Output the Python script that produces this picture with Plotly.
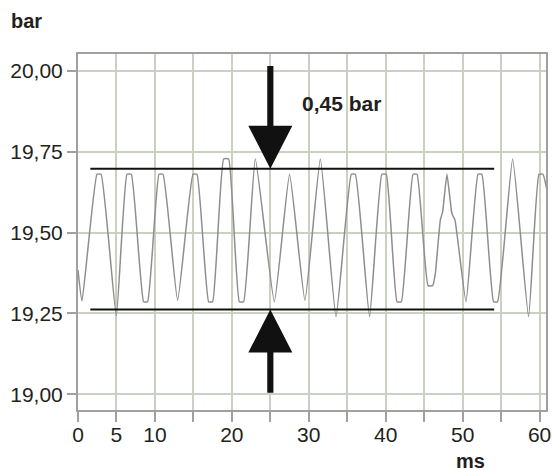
import plotly.graph_objects as go

# ---- data ----
time_ms = [0, 0.52, 2.47, 3.0, 4.98, 6.37, 6.93, 8.53, 9.05, 10.53, 11.05, 12.95,
           14.95, 15.47, 16.98, 17.5, 18.93, 19.58, 20.97, 21.53, 23.05, 25.52,
           27.5, 29.5, 31.5, 33.54, 35.53, 36.05, 37.9, 39.5, 40.07, 41.47, 42.03,
           43.55, 44.07, 45.5, 46.1, 46.45, 47.1, 47.4, 47.96, 48.6, 49.0, 50.44,
           52.0, 52.5, 54.02, 54.54, 56.5, 58.57, 59.92, 60.44, 60.96]
pressure_bar = [19.384, 19.288, 19.68, 19.68, 19.243, 19.68, 19.68, 19.286, 19.286,
                19.68, 19.68, 19.29, 19.68, 19.68, 19.286, 19.286, 19.727, 19.727,
                19.286, 19.286, 19.727, 19.286, 19.68, 19.29, 19.727, 19.24, 19.68,
                19.68, 19.24, 19.68, 19.68, 19.286, 19.286, 19.68, 19.68, 19.336,
                19.336, 19.374, 19.539, 19.564, 19.68, 19.559, 19.539, 19.286, 19.68,
                19.68, 19.286, 19.286, 19.727, 19.24, 19.68, 19.68, 19.631]

x_tickvals = [0, 5, 10, 15, 20, 25, 30, 35, 40, 45, 50, 55, 60]
x_ticktext = ["0", "5", "10", "", "20", "", "30", "", "40", "", "50", "", "60"]
y_tickvals = [19.0, 19.25, 19.5, 19.75, 20.0]
y_ticktext = ["19,00", "19,25", "19,50", "19,75", "20,00"]

band_top = 19.697
band_bottom = 19.262
band_start, band_end = 1.6, 54.1
arrow_x = 25.0
amplitude_label = "0,45 bar"

# ---- style / geometry ----
FONT = "Liberation Sans, Arial, Helvetica, sans-serif"
TXT = "#231f20"
GRID = "#c9d2c2"
FRAME = "#a0a0a0"
W, H = 552, 472
ML, MR, MT, MB = 78, 6, 54, 62
X_RANGE = [0, 60.835]
Y_RANGE = [18.9515, 20.0516]

fig = go.Figure()
fig.add_trace(go.Scatter(x=time_ms, y=pressure_bar, mode="lines",
                         line=dict(color="#8e8e8e", width=1.5, shape="spline", smoothing=0.4),
                         hoverinfo="skip", showlegend=False))

# band lines
for yv in (band_top, band_bottom):
    fig.add_shape(type="line", xref="x", yref="y", x0=band_start, x1=band_end,
                  y0=yv, y1=yv, line=dict(color="#111111", width=2))

# arrows (filled paths) relative to band lines
head_hw = 2.86      # ms
shaft_hw = 0.40     # ms
head_len = 0.133    # bar
down_top = 20.0145
up_bottom = 19.005

def arrow_path(tip, base, end):
    return (f"M {arrow_x},{tip} L {arrow_x-head_hw},{base} L {arrow_x-shaft_hw},{base} "
            f"L {arrow_x-shaft_hw},{end} L {arrow_x+shaft_hw},{end} L {arrow_x+shaft_hw},{base} "
            f"L {arrow_x+head_hw},{base} Z")

fig.add_shape(type="path", xref="x", yref="y",
              path=arrow_path(band_top, band_top + head_len, down_top),
              fillcolor="#111111", line=dict(width=0))
fig.add_shape(type="path", xref="x", yref="y",
              path=arrow_path(band_bottom, band_bottom - head_len, up_bottom),
              fillcolor="#111111", line=dict(width=0))

# texts
fig.add_annotation(x=28.9, y=19.90, xref="x", yref="y", text=f"<b>{amplitude_label}</b>",
                   showarrow=False, xanchor="left", yanchor="middle",
                   font=dict(family=FONT, size=21, color=TXT))
fig.add_annotation(x=(9 - ML) / (W - ML - MR), y=(H - MB - 21) / (H - MT - MB),
                   xref="paper", yref="paper", text="<b>bar</b>", showarrow=False,
                   xanchor="left", yanchor="middle",
                   font=dict(family=FONT, size=20, color=TXT))
fig.add_annotation(x=(470 - ML) / (W - ML - MR), y=(H - MB - 461) / (H - MT - MB),
                   xref="paper", yref="paper", text="<b>ms</b>", showarrow=False,
                   xanchor="center", yanchor="middle",
                   font=dict(family=FONT, size=20, color=TXT))

fig.update_layout(
    width=W, height=H,
    margin=dict(l=ML, r=MR, t=MT, b=MB, autoexpand=False),
    paper_bgcolor="white", plot_bgcolor="white",
    font=dict(family=FONT, size=21, color=TXT),
    showlegend=False,
)
fig.update_xaxes(range=X_RANGE, tickvals=x_tickvals, ticktext=x_ticktext,
                 showgrid=True, gridcolor=GRID, gridwidth=1.5, zeroline=False,
                 showline=True, mirror=True, linecolor=FRAME, linewidth=2,
                 ticks="outside", ticklen=10, tickcolor=FRAME, tickwidth=1.5,
                 ticklabelstandoff=-5,
                 tickfont=dict(family=FONT, size=21, color=TXT))
fig.update_yaxes(range=Y_RANGE, tickvals=y_tickvals, ticktext=y_ticktext,
                 showgrid=True, gridcolor=GRID, gridwidth=1.5, zeroline=False,
                 showline=True, mirror=True, linecolor=FRAME, linewidth=2,
                 ticks="outside", ticklen=9, tickcolor=FRAME, tickwidth=1.5,
                 tickfont=dict(family=FONT, size=21, color=TXT))

fig.write_html("out.html")
